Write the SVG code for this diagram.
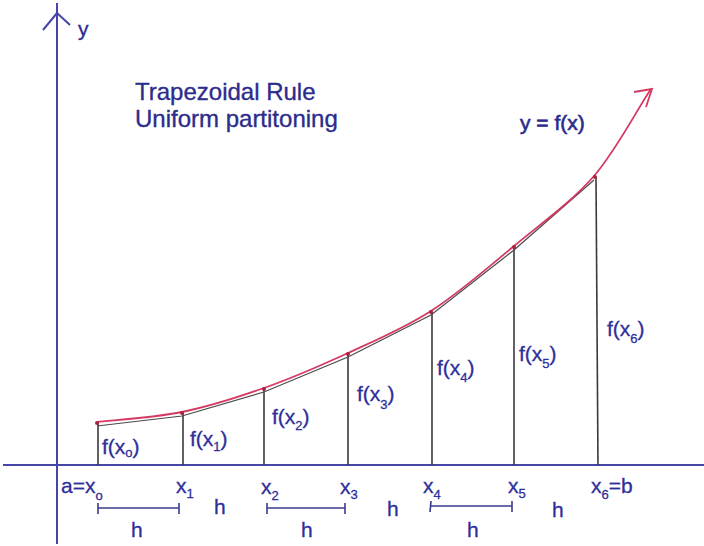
<svg xmlns="http://www.w3.org/2000/svg" width="704" height="546" viewBox="0 0 704 546">
<style>
.axis{stroke:#4646a8;stroke-width:2;fill:none}
.ord{stroke:#3a3a3a;stroke-width:1.6}
.chord{stroke:#4a4a4a;stroke-width:1.2;fill:none}
.curve{stroke:#d43a62;stroke-width:1.8;fill:none}
.dot{fill:#b0203f}
.t{font-family:"Liberation Sans",Arial,sans-serif;fill:#2c2c8c;stroke:#2c2c8c;stroke-width:0.35}
.lab{font-family:"Liberation Sans",Arial,sans-serif;fill:#2e2e9a;stroke:#2e2e9a;stroke-width:0.3;font-size:21px}
.sub{font-size:13px}
.bar{stroke:#3a3a8c;stroke-width:1.6}
</style>
<rect width="704" height="546" fill="#ffffff"/>
<g id="axes">
<line class="axis" x1="3" y1="465" x2="704" y2="465"/>
<line class="axis" x1="57" y1="3" x2="57" y2="544"/>
<polyline class="axis" points="43,30 57,13 70,25"/>
<text class="t" x="78" y="36" font-size="21">y</text>
</g>
<g id="title">
<text class="t" x="135" y="100" font-size="24">Trapezoidal Rule</text>
<text class="t" x="135" y="127" font-size="24">Uniform partitoning</text>
</g>
<g id="connectors">
<line class="ord" x1="98" y1="423" x2="98" y2="465"/>
<line class="ord" x1="183" y1="413" x2="183" y2="465"/>
<line class="ord" x1="264" y1="389" x2="264" y2="465"/>
<line class="ord" x1="348" y1="354" x2="348" y2="465"/>
<line class="ord" x1="432" y1="312" x2="432" y2="465"/>
<line class="ord" x1="514" y1="247" x2="514" y2="465"/>
<line class="ord" x1="596" y1="177" x2="598" y2="465"/>
<polyline class="chord" points="97,426 182,416 264,392 348,357 431,315 514,250 594,180"/>
<path class="curve" d="M97,422 C111.2,420.3 154.2,417.7 182,412 C209.8,406.3 236.3,397.8 264,388 C291.7,378.2 320.2,365.8 348,353 C375.8,340.2 403.3,328.8 431,311 C458.7,293.2 486.8,268.5 514,246 C541.2,223.5 571.7,201.8 594,176 C616.3,150.2 639,106.2 651,89"/>
<polyline class="curve" points="634,92 652,89 646,107"/>
</g>
<g id="points">
<circle class="dot" cx="97" cy="423" r="2"/>
<circle class="dot" cx="182" cy="413" r="2"/>
<circle class="dot" cx="264" cy="389" r="2"/>
<circle class="dot" cx="348" cy="354" r="2"/>
<circle class="dot" cx="431" cy="312" r="2"/>
<circle class="dot" cx="514" cy="247" r="2"/>
<circle class="dot" cx="595" cy="177" r="2"/>
</g>
<g id="curve-label">
<text class="t" x="520" y="130" font-size="21" style="stroke-width:0.6">y = f(x)</text>
</g>
<g id="ordinate-labels">
<text class="lab" x="102" y="454">f(x<tspan class="sub" dy="3">o</tspan><tspan dy="-3">)</tspan></text>
<text class="lab" x="190" y="446">f(x<tspan class="sub" dy="5">1</tspan><tspan dy="-5">)</tspan></text>
<text class="lab" x="272" y="424">f(x<tspan class="sub" dy="6">2</tspan><tspan dy="-6">)</tspan></text>
<text class="lab" x="357" y="401">f(x<tspan class="sub" dy="8">3</tspan><tspan dy="-8">)</tspan></text>
<text class="lab" x="437" y="375">f(x<tspan class="sub" dy="7">4</tspan><tspan dy="-7">)</tspan></text>
<text class="lab" x="519" y="361">f(x<tspan class="sub" dy="7">5</tspan><tspan dy="-7">)</tspan></text>
<text class="lab" x="607" y="336">f(x<tspan class="sub" dy="7">6</tspan><tspan dy="-7">)</tspan></text>
</g>
<g id="axis-labels">
<text class="lab" x="61" y="493">a=x<tspan class="sub" dy="7">o</tspan></text>
<text class="lab" x="176" y="493">x<tspan class="sub" dy="5">1</tspan></text>
<text class="lab" x="261" y="494">x<tspan class="sub" dy="6">2</tspan></text>
<text class="lab" x="340" y="494">x<tspan class="sub" dy="5">3</tspan></text>
<text class="lab" x="423" y="493">x<tspan class="sub" dy="6">4</tspan></text>
<text class="lab" x="508" y="493">x<tspan class="sub" dy="5">5</tspan></text>
<text class="lab" x="591" y="493">x<tspan class="sub" dy="6">6</tspan><tspan dy="-6">=b</tspan></text>
</g>
<g id="h-intervals">
<line class="bar" x1="98" y1="508" x2="179" y2="508"/>
<line class="bar" x1="98" y1="503" x2="98" y2="514"/>
<line class="bar" x1="179" y1="503" x2="179" y2="514"/>
<line class="bar" x1="267" y1="508" x2="345" y2="508"/>
<line class="bar" x1="267" y1="503" x2="267" y2="514"/>
<line class="bar" x1="345" y1="503" x2="345" y2="514"/>
<line class="bar" x1="431" y1="506" x2="512" y2="506"/>
<line class="bar" x1="431" y1="501" x2="430" y2="512"/>
<line class="bar" x1="512" y1="501" x2="512" y2="512"/>
<text class="lab" x="131" y="537" font-size="22">h</text>
<text class="lab" x="214" y="514" font-size="22">h</text>
<text class="lab" x="301" y="537" font-size="22">h</text>
<text class="lab" x="387" y="516" font-size="22">h</text>
<text class="lab" x="467" y="537" font-size="22">h</text>
<text class="lab" x="552" y="517" font-size="22">h</text>
</g>
</svg>
